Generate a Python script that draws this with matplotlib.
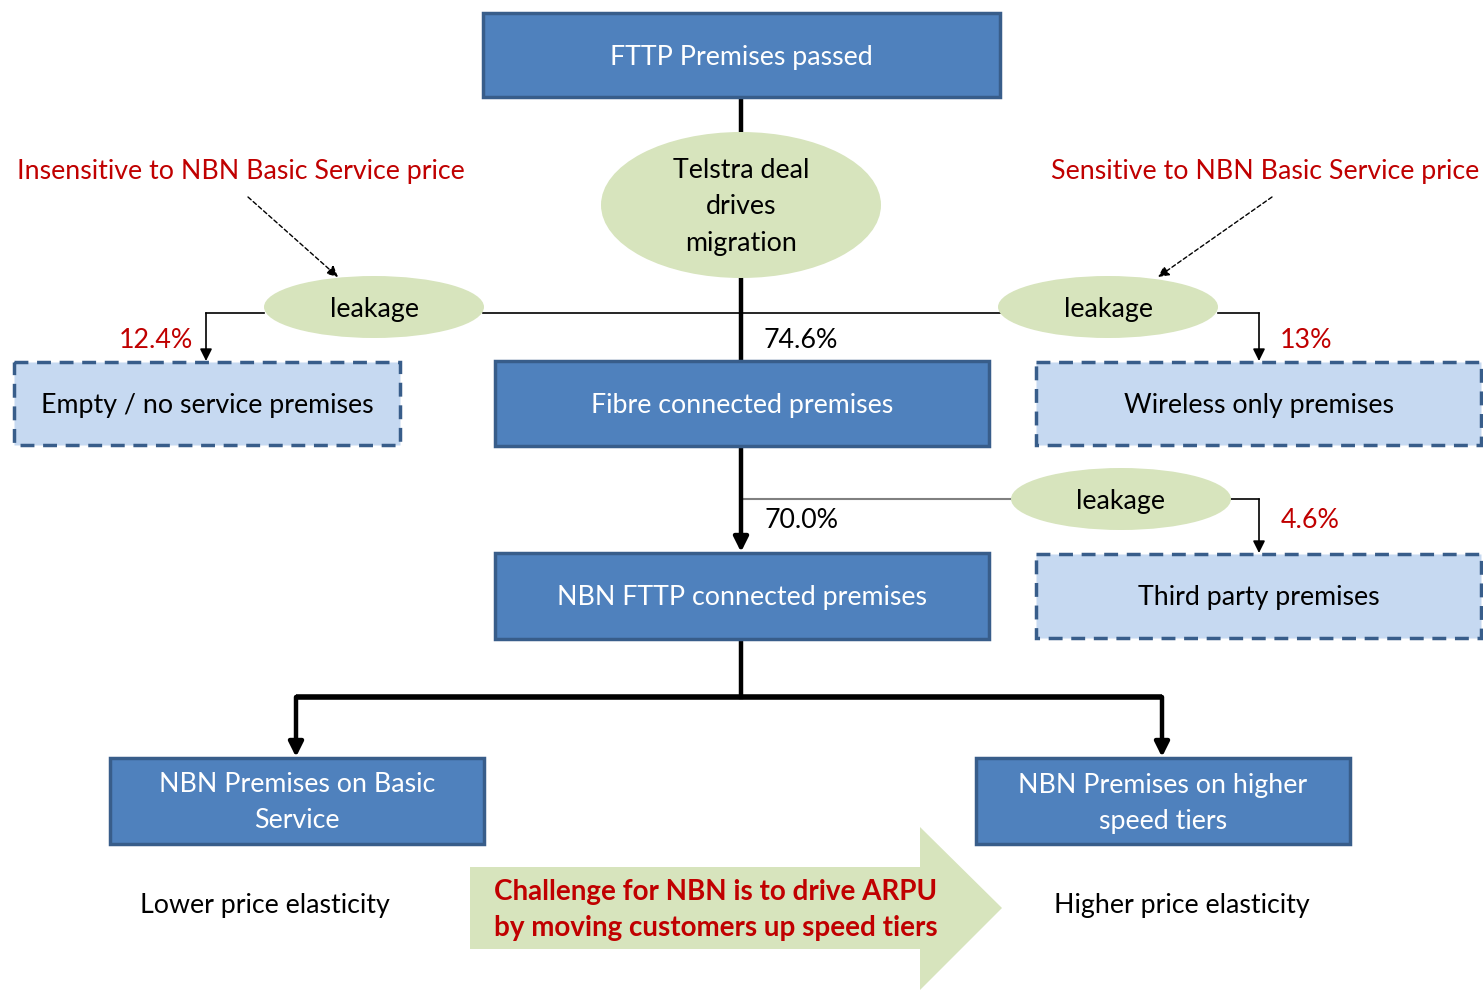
import matplotlib.pyplot as plt
from matplotlib.patches import Rectangle, Ellipse, Polygon

# labels and figures from the diagram
box_labels = ["FTTP Premises passed", "Fibre connected premises", "NBN FTTP connected premises",
              "NBN Premises on Basic\nService", "NBN Premises on higher\nspeed tiers"]
leak_labels = ["Empty / no service premises", "Wireless only premises", "Third party premises"]
flow_pcts = ["74.6%", "70.0%"]
leak_pcts = ["12.4%", "13%", "4.6%"]
notes = ["Insensitive to NBN Basic Service price", "Sensitive to NBN Basic Service price"]
elasticity = ["Lower price elasticity", "Higher price elasticity"]
driver = "Telstra deal\ndrives\nmigration"
challenge = "Challenge for NBN is to drive ARPU\nby moving customers up speed tiers"

BLUE = "#4F81BD"
EDGE = "#385D8A"
LIGHT = "#C6D9F1"
GREEN = "#D7E4BD"
RED = "#C00000"
FS = 19.3

plt.rcParams["font.family"] = ["Lato", "DejaVu Sans"]

fig = plt.figure(figsize=(14.83, 9.91), dpi=100)
ax = fig.add_axes([0, 0, 1, 1])
ax.set_xlim(0, 1483)
ax.set_ylim(991, 0)
ax.axis("off")


def label(x, y, text, **kw):
    kw.setdefault("fontsize", FS)
    kw.setdefault("linespacing", 1.55)
    ax.text(x, y + 2, text, ha="center", va="center", **kw)


def box(x0, y0, x1, y1, text, dashed=False):
    if dashed:
        r = Rectangle((x0, y0), x1 - x0, y1 - y0, facecolor=LIGHT, edgecolor=EDGE,
                      lw=2.5, ls=(0, (4, 2.5)), zorder=3)
        color = "black"
    else:
        r = Rectangle((x0, y0), x1 - x0, y1 - y0, facecolor=BLUE, edgecolor=EDGE,
                      lw=2.5, zorder=3)
        color = "white"
    ax.add_patch(r)
    label((x0 + x1) / 2, (y0 + y1) / 2, text, color=color, zorder=4)


def oval(cx, cy, w, h, text):
    ax.add_patch(Ellipse((cx, cy), w, h, facecolor=GREEN, edgecolor="none", zorder=3))
    label(cx, cy, text, zorder=4)


def arrow_to(x0, y0, x1, y1, lw=1.2, color="black", ls="-", head=1.0):
    ax.annotate("", xy=(x1, y1), xytext=(x0, y0),
                arrowprops=dict(arrowstyle="-|>", color=color, lw=lw, ls=ls,
                                mutation_scale=18 * head, shrinkA=0, shrinkB=0),
                zorder=2)


# main spine
ax.plot([741, 741], [97, 360], color="black", lw=3.2, zorder=2)
ax.plot([483, 1000], [313, 313], color="black", lw=1.2, zorder=1)

# left leakage
ax.plot([264, 206], [313, 313], color="black", lw=1.2, zorder=2)
arrow_to(206, 313, 206, 361)
# right leakage
ax.plot([1218, 1259], [313, 313], color="black", lw=1.2, zorder=2)
arrow_to(1259, 313, 1259, 361)

# dashed note arrows
arrow_to(248, 197, 338, 277, lw=1.0, ls=(0, (3, 2)), head=0.9)
arrow_to(1272, 197, 1158, 277, lw=1.0, ls=(0, (3, 2)), head=0.9)

# fibre -> NBN FTTP
arrow_to(741, 446, 741, 552, lw=3.2, head=1.2)
ax.plot([741, 1012], [499, 499], color="#808080", lw=1.5, zorder=1)
ax.plot([1231, 1259], [499, 499], color="black", lw=1.2, zorder=2)
arrow_to(1259, 499, 1259, 553)

# split to speed tiers
ax.plot([741, 741], [639, 697], color="black", lw=3.2, zorder=2)
ax.plot([296, 1162], [697, 697], color="black", lw=4, zorder=2, solid_capstyle="butt")
arrow_to(296, 697, 296, 757, lw=3.2, head=1.2)
arrow_to(1162, 697, 1162, 757, lw=3.2, head=1.2)

# boxes
box(483, 13, 1000, 97, box_labels[0])
box(495, 361, 989, 446, box_labels[1])
box(495, 553, 989, 639, box_labels[2])
box(110, 758, 484, 844, box_labels[3])
box(976, 758, 1350, 844, box_labels[4])
box(14, 362, 400, 445, leak_labels[0], dashed=True)
box(1036, 362, 1481, 445, leak_labels[1], dashed=True)
box(1036, 554, 1481, 638, leak_labels[2], dashed=True)

# ovals
oval(741, 205, 280, 146, driver)
oval(374, 307, 220, 62, "leakage")
oval(1108, 307, 220, 62, "leakage")
oval(1121, 499, 220, 62, "leakage")

# percentages
label(801, 338, flow_pcts[0])
label(801, 518, flow_pcts[1])
label(156, 338, leak_pcts[0], color=RED)
label(1306, 338, leak_pcts[1], color=RED)
label(1310, 518, leak_pcts[2], color=RED)

# notes
label(241, 169, notes[0], color=RED)
label(1265, 169, notes[1], color=RED)

# elasticity
label(265, 903, elasticity[0])
label(1182, 903, elasticity[1])

# big arrow
ax.add_patch(Polygon([(470, 867), (920, 867), (920, 827), (1002, 908), (920, 990),
                      (920, 949), (470, 949)], closed=True, facecolor=GREEN,
                     edgecolor="none", zorder=1))
label(716, 908, challenge, color=RED, fontsize=20, fontweight="bold",
      linespacing=1.5, zorder=4)

fig.savefig("out.png", dpi=100)
